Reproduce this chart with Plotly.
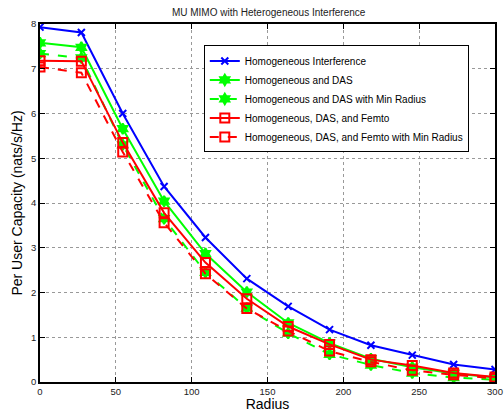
import plotly.graph_objects as go

radius = [0, 27.27, 54.55, 81.82, 109.09, 136.36, 163.64, 190.91, 218.18, 245.45, 272.73, 300]

homog = [7.93, 7.81, 6.00, 4.37, 3.23, 2.31, 1.69, 1.17, 0.82, 0.60, 0.39, 0.28]
homog_das = [7.58, 7.48, 5.66, 4.04, 2.87, 2.01, 1.32, 0.87, 0.52, 0.33, 0.19, 0.10]
homog_das_min = [7.34, 7.24, 5.30, 3.65, 2.45, 1.65, 1.09, 0.62, 0.38, 0.20, 0.10, 0.05]
homog_das_femto = [7.18, 7.17, 5.35, 3.78, 2.67, 1.86, 1.24, 0.84, 0.50, 0.37, 0.20, 0.11]
homog_das_femto_min = [7.04, 6.91, 5.14, 3.56, 2.42, 1.64, 1.14, 0.69, 0.45, 0.26, 0.16, 0.08]

names = [
    "Homogeneous Interference",
    "Homogeneous and DAS",
    "Homogeneous and DAS with Min Radius",
    "Homogeneous, DAS, and Femto",
    "Homogeneous, DAS, and Femto with Min Radius",
]
x_ticks = [0, 50, 100, 150, 200, 250, 300]
y_ticks = [0, 1, 2, 3, 4, 5, 6, 7, 8]

series = [homog, homog_das, homog_das_min, homog_das_femto, homog_das_femto_min]
colors = ["#0000ff", "#00ff00", "#00ff00", "#ff0000", "#ff0000"]
dashes = ["solid", "solid", "dash", "solid", "dash"]
symbols = ["x-thin-open", "hexagram", "hexagram", "square-open", "square-open"]
sizes = [7, 8, 8, 9, 9]

fig = go.Figure()
for ys, nm, c, d, s, sz in zip(series, names, colors, dashes, symbols, sizes):
    fig.add_trace(go.Scatter(
        x=radius, y=ys, name=nm, mode="lines+markers",
        line=dict(color=c, width=2, dash=d),
        marker=dict(symbol=s, size=sz, color=c, line=dict(color=c, width=2)),
    ))

FONT = "Liberation Sans, Arial"
axis_common = dict(
    showline=True, linecolor="black", linewidth=1.5, mirror="ticks",
    ticks="inside", ticklen=5, tickcolor="black", automargin=False,
    showgrid=True, gridcolor="#999999", griddash="dot", gridwidth=1,
    zeroline=False, tickfont=dict(family=FONT, size=9.5, color="#222"),
)

fig.update_layout(
    width=504, height=412,
    margin=dict(l=40, r=9, t=24, b=30),
    paper_bgcolor="white", plot_bgcolor="white",
    title=dict(text="MU MIMO with Heterogeneous Interference", x=0.533, xanchor="center",
               y=0.97, yanchor="middle",
               font=dict(family=FONT, size=10, color="#222")),
    xaxis=dict(axis_common, range=[0, 300], tickvals=x_ticks,
               title=dict(text="Radius", standoff=4,
                          font=dict(family=FONT, size=14, color="black"))),
    yaxis=dict(axis_common, range=[0, 8], tickvals=y_ticks,
               title=dict(text="Per User Capacity (nats/s/Hz)", standoff=5,
                          font=dict(family=FONT, size=14, color="black"))),
    legend=dict(x=0.36, y=0.94, xanchor="left", yanchor="top",
                bordercolor="black", borderwidth=1, bgcolor="white",
                font=dict(family=FONT, size=10, color="black"),
                tracegroupgap=0, itemwidth=30),
    showlegend=True,
)

fig.write_html("out.html", config={"displayModeBar": False},
               post_script="document.body.style.margin='0';document.body.style.overflow='hidden';")
